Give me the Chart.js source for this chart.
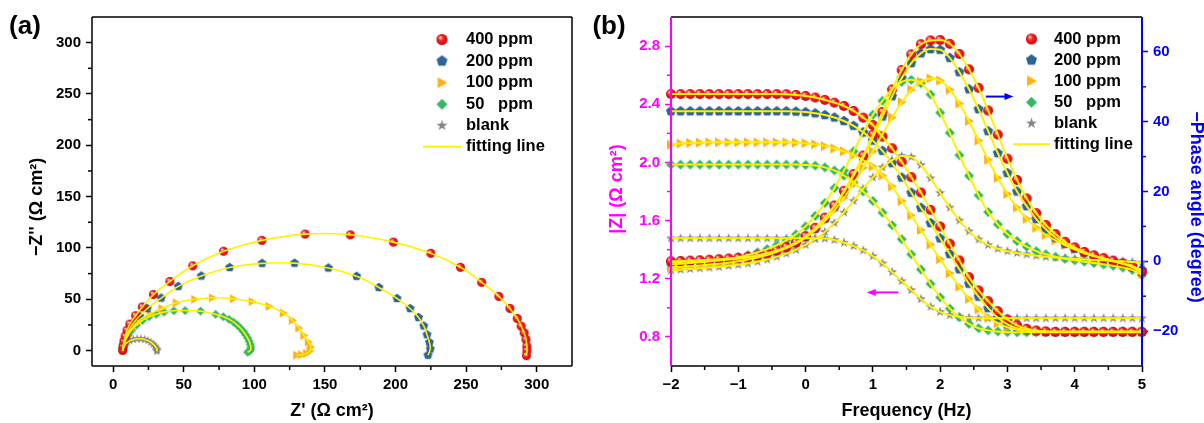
<!DOCTYPE html>
<html>
<head>
<meta charset="utf-8">
<script src="https://cdn.jsdelivr.net/npm/chart.js@4.4.1/dist/chart.umd.min.js"></script>
<style>
  html, body { margin: 0; padding: 0; background: #fff; }
  #wrap { position: relative; width: 1204px; height: 423px; overflow: hidden; }
  canvas { position: absolute; top: 0; }
  #nyquist { left: 0; }
  #bode { left: 580px; }
</style>
</head>
<body>
<div id="wrap">
  <canvas id="nyquist" width="580" height="423"></canvas>
  <canvas id="bode" width="624" height="423"></canvas>
</div>
<script>
// --- (a) Nyquist: Z' e -Z'' ---
const nyqTicks = [0, 50, 100, 150, 200, 250, 300];
const nyqMinor = [25, 75, 125, 175, 225, 275];

const ny400Re = [6.8, 7.0, 7.6, 8.5, 9.8, 11.8, 15.9, 20.6, 28.5, 40.2, 56.4, 78.2, 105.3, 136.0, 168.0, 198.5, 225.0, 246.0, 261.0, 273.2, 281.0, 286.2, 289.0, 291.1, 292.4, 293.0, 293.1, 292.7];
const ny400Im = [0.3, 4.0, 9.0, 14.0, 19.8, 25.8, 34.0, 42.5, 54.6, 67.4, 82.6, 96.8, 107.4, 113.5, 112.8, 105.7, 94.8, 81.2, 66.5, 52.8, 41.1, 31.3, 23.8, 17.3, 10.8, 4.2, 0.0, -4.9];
const ny200Re = [6.8, 7.3, 8.2, 9.6, 11.6, 14.5, 18.7, 24.1, 34.0, 46.1, 62.4, 82.5, 105.5, 128.5, 152.4, 172.4, 188.2, 201.0, 210.3, 216.3, 220.0, 222.3, 224.0, 224.6, 223.0];
const ny200Im = [0.5, 5.0, 10.0, 15.5, 21.0, 27.0, 33.5, 41.0, 51.2, 62.6, 72.7, 81.0, 85.0, 85.2, 80.5, 72.4, 61.5, 50.8, 41.0, 32.3, 24.0, 15.5, 8.0, 1.6, -4.5];
const ny100Re = [6.8, 7.3, 8.3, 10.0, 12.5, 16.0, 20.5, 26.5, 34.5, 44.7, 57.8, 70.4, 85.3, 98.5, 110.5, 120.6, 127.0, 131.5, 135.1, 138.3, 140.0, 139.5, 137.0, 133.5, 130.0];
const ny100Im = [0.0, 4.0, 9.0, 14.0, 20.0, 26.0, 31.5, 36.0, 41.0, 46.6, 50.0, 51.5, 50.5, 47.7, 43.1, 36.6, 29.5, 22.0, 14.7, 8.5, 3.5, -0.5, -2.8, -4.0, -4.5];
const ny50Re = [6.5, 6.9, 7.6, 8.8, 10.6, 13.2, 16.6, 20.8, 25.4, 30.5, 36.0, 43.0, 50.9, 61.9, 72.6, 78.0, 82.0, 85.3, 88.0, 90.3, 92.2, 93.8, 95.2, 96.3, 97.1, 97.5, 97.4, 96.5, 95.2];
const ny50Im = [0.0, 3.0, 6.5, 10.5, 15.0, 20.0, 25.0, 29.5, 33.0, 35.5, 37.5, 38.8, 39.0, 38.5, 35.3, 33.0, 30.5, 27.8, 24.8, 21.7, 18.6, 15.5, 12.3, 9.2, 6.2, 3.4, 1.0, -0.6, -1.5];
const nyBlankRe = [7.0, 7.4, 8.3, 9.8, 11.8, 14.3, 17.0, 19.7, 22.3, 24.6, 26.7, 28.3, 29.6, 30.5, 31.0, 31.1, 30.8];
const nyBlankIm = [0.0, 2.7, 5.4, 7.8, 9.7, 10.9, 11.5, 11.5, 10.9, 9.7, 8.1, 6.3, 4.4, 2.7, 1.4, 0.3, -0.6];

// --- (b) Bode: log(f), log|Z| e -fase ---
const bodeXTicks = [-2, -1, 0, 1, 2, 3, 4, 5];
const bodeXMinor = [-1.5, -0.5, 0.5, 1.5, 2.5, 3.5, 4.5];
const bodeZTicks = [0.8, 1.2, 1.6, 2.0, 2.4, 2.8];
const bodeZMinor = [1.0, 1.4, 1.8, 2.2, 2.6];
const bodePTicks = [-20, 0, 20, 40, 60];
const bodePMinor = [-10, 10, 30, 50];

const freqLog = [-2, -1.857, -1.714, -1.571, -1.429, -1.286, -1.143, -1, -0.857, -0.714,
  -0.571, -0.429, -0.286, -0.143, 0, 0.143, 0.286, 0.429, 0.571, 0.714,
  0.857, 1, 1.143, 1.286, 1.429, 1.571, 1.714, 1.857, 2, 2.143,
  2.286, 2.429, 2.571, 2.714, 2.857, 3, 3.143, 3.286, 3.429, 3.571,
  3.714, 3.857, 4, 4.143, 4.286, 4.429, 4.571, 4.714, 4.857, 5];

const z400 = [2.47, 2.47, 2.47, 2.47, 2.47, 2.47, 2.47, 2.47, 2.47, 2.47,
  2.47, 2.47, 2.469, 2.464, 2.457, 2.446, 2.430, 2.411, 2.388, 2.354,
  2.308, 2.257, 2.177, 2.097, 2.004, 1.899, 1.793, 1.674, 1.559, 1.441,
  1.326, 1.211, 1.120, 1.046, 0.977, 0.920, 0.880, 0.856, 0.844, 0.838,
  0.835, 0.835, 0.835, 0.835, 0.835, 0.835, 0.835, 0.835, 0.835, 0.835];
const z200 = [2.352, 2.352, 2.352, 2.352, 2.352, 2.352, 2.352, 2.352, 2.352, 2.352,
  2.352, 2.352, 2.352, 2.350, 2.346, 2.338, 2.326, 2.309, 2.285, 2.252,
  2.207, 2.150, 2.080, 1.995, 1.896, 1.792, 1.688, 1.583, 1.478, 1.370,
  1.265, 1.166, 1.077, 0.998, 0.932, 0.887, 0.860, 0.846, 0.839, 0.835,
  0.835, 0.835, 0.835, 0.835, 0.835, 0.835, 0.835, 0.835, 0.835, 0.835];
const z100 = [2.122, 2.130, 2.134, 2.136, 2.138, 2.138, 2.138, 2.138, 2.138, 2.138,
  2.138, 2.138, 2.138, 2.136, 2.132, 2.124, 2.112, 2.096, 2.076, 2.050,
  2.016, 1.972, 1.910, 1.835, 1.735, 1.635, 1.535, 1.435, 1.335, 1.238,
  1.145, 1.062, 0.990, 0.935, 0.895, 0.866, 0.850, 0.842, 0.838, 0.835,
  0.835, 0.835, 0.835, 0.835, 0.835, 0.835, 0.835, 0.835, 0.835, 0.835];
const z50 = [1.985, 1.985, 1.985, 1.985, 1.985, 1.985, 1.985, 1.985, 1.985, 1.985,
  1.985, 1.985, 1.985, 1.985, 1.983, 1.978, 1.966, 1.945, 1.910, 1.862,
  1.800, 1.735, 1.655, 1.568, 1.472, 1.368, 1.264, 1.165, 1.072, 0.995,
  0.935, 0.890, 0.860, 0.845, 0.838, 0.832, 0.832, 0.832, 0.832, 0.832,
  0.832, 0.832, 0.832, 0.832, 0.832, 0.832, 0.832, 0.832, 0.832, 0.832];
const zBlank = [1.478, 1.478, 1.478, 1.478, 1.478, 1.478, 1.478, 1.478, 1.478, 1.478,
  1.478, 1.478, 1.478, 1.478, 1.478, 1.478, 1.476, 1.467, 1.448, 1.425,
  1.395, 1.356, 1.306, 1.246, 1.184, 1.122, 1.060, 1.008, 0.972, 0.950,
  0.939, 0.932, 0.928, 0.928, 0.928, 0.928, 0.928, 0.928, 0.928, 0.928,
  0.928, 0.928, 0.928, 0.928, 0.928, 0.928, 0.928, 0.928, 0.928, 0.928];

const p400 = [0.0, 0.1, 0.2, 0.3, 0.45, 0.6, 0.8, 1.0, 1.3, 1.7,
  2.3, 3.1, 4.1, 5.4, 7.2, 9.6, 12.5, 16.0, 20.2, 25.0,
  30.3, 36.3, 42.8, 49.2, 54.8, 59.3, 62.2, 63.3, 63.4, 62.3,
  59.4, 55.0, 49.7, 43.2, 36.3, 29.4, 23.3, 18.0, 13.8, 10.4,
  7.8, 5.6, 4.0, 2.7, 1.7, 0.9, 0.2, -0.6, -1.6, -3.0];
const p200 = [-0.3, -0.2, -0.1, 0.0, 0.15, 0.3, 0.5, 0.75, 1.1, 1.5,
  2.1, 2.9, 3.9, 5.2, 7.0, 9.3, 12.2, 15.7, 19.8, 24.5,
  29.7, 35.5, 41.5, 47.3, 52.5, 56.8, 59.6, 60.8, 60.6, 58.3,
  54.2, 49.3, 43.6, 37.3, 31.0, 25.3, 20.0, 15.8, 12.1, 9.2,
  6.8, 5.0, 3.6, 2.5, 1.5, 0.8, 0.1, -0.6, -1.4, -2.5];
const p100 = [-1.8, -1.6, -1.4, -1.2, -0.95, -0.7, -0.4, 0.0, 0.5, 1.1,
  1.8, 2.7, 3.8, 5.1, 6.8, 8.9, 11.5, 14.6, 18.2, 22.3,
  26.8, 31.5, 36.4, 41.2, 45.6, 49.2, 51.5, 52.4, 51.8, 49.2,
  45.2, 40.2, 34.6, 29.1, 23.9, 19.3, 15.4, 12.2, 9.6, 7.6,
  6.0, 4.6, 3.4, 2.3, 1.5, 0.7, 0.0, -0.7, -1.7, -3.5];
const p50 = [-0.9, -0.7, -0.5, -0.3, 0.0, 0.3, 0.7, 1.2, 1.8, 2.6,
  3.5, 4.6, 6.0, 7.7, 10.0, 13.0, 16.7, 21.0, 26.0, 31.5,
  37.0, 42.0, 46.0, 49.3, 51.4, 52.0, 51.0, 47.8, 42.6, 36.8,
  30.4, 24.5, 18.9, 14.1, 10.6, 7.8, 5.8, 4.2, 2.9, 2.0,
  1.3, 0.7, 0.3, -0.1, -0.5, -0.9, -1.3, -1.8, -2.5, -4.0];
const pBlank = [-2.6, -2.4, -2.2, -2.0, -1.8, -1.6, -1.3, -1.0, -0.6, -0.1,
  0.5, 1.3, 2.2, 3.3, 4.7, 6.4, 8.4, 11.0, 14.0, 17.3,
  20.8, 24.0, 26.9, 29.0, 30.2, 29.9, 27.6, 23.8, 19.6, 15.4,
  11.7, 8.6, 6.3, 4.7, 3.6, 2.9, 2.4, 2.0, 1.6, 1.3,
  1.1, 0.9, 0.7, 0.5, 0.4, 0.3, 0.1, 0.0, -0.2, -0.4];

const seriesNames = ['400 ppm', '200 ppm', '100 ppm', '50   ppm', 'blank'];
const seriesColors = ['#e8141c', '#2d6396', '#ffb114', '#35b863', '#858585'];
const seriesShapes = ['ball', 'pentagon', 'triangle', 'diamond', 'star'];
const FIT = '#fff200';
const MAGENTA = '#ff00ff';
const BLUE = '#0000ff';
const FONT = '"Liberation Sans", Arial, sans-serif';

Chart.defaults.font.family = FONT;
Chart.defaults.font.weight = 'bold';

// marcador desenhado num canvas pequeno (pentágono, estrela etc. não existem no Chart.js)
function makeMarker(shape, color, size) {
  const c = document.createElement('canvas');
  c.width = size + 2; c.height = size + 2;
  const g = c.getContext('2d');
  const m = (size + 2) / 2, r = size / 2;
  g.fillStyle = color;
  g.beginPath();
  if (shape === 'ball') {
    const grd = g.createRadialGradient(m - r * 0.35, m - r * 0.4, r * 0.1, m, m, r);
    grd.addColorStop(0, '#ffd6d6');
    grd.addColorStop(0.35, '#ff2a2a');
    grd.addColorStop(1, '#cc0000');
    g.fillStyle = grd;
    g.arc(m, m, r, 0, Math.PI * 2);
  } else if (shape === 'pentagon') {
    for (let i = 0; i < 5; i++) {
      const a = -Math.PI / 2 + i * 2 * Math.PI / 5;
      g.lineTo(m + r * 1.05 * Math.cos(a), m + r * 1.05 * Math.sin(a));
    }
  } else if (shape === 'triangle') {
    g.moveTo(m + r, m); g.lineTo(m - r * 0.8, m - r); g.lineTo(m - r * 0.8, m + r);
  } else if (shape === 'diamond') {
    g.moveTo(m, m - r); g.lineTo(m + r, m); g.lineTo(m, m + r); g.lineTo(m - r, m);
  } else if (shape === 'star') {
    for (let i = 0; i < 10; i++) {
      const a = -Math.PI / 2 + i * Math.PI / 5;
      const rr = i % 2 ? r * 0.42 : r * 1.05;
      g.lineTo(m + rr * Math.cos(a), m + rr * Math.sin(a));
    }
  }
  g.closePath();
  g.fill();
  return c;
}

const markersA = seriesShapes.map((s, i) => makeMarker(s, seriesColors[i], 9));
const markersB = seriesShapes.map((s, i) => makeMarker(s, seriesColors[i], 10));
const markersLegend = seriesShapes.map((s, i) => makeMarker(s, seriesColors[i], 11));

const toXY = (xs, ys) => xs.map((x, i) => ({ x: x, y: ys[i] }));
const minus = v => String(v).replace('-', '\u2212');

// --- plugin: moldura, ticks menores, títulos, legenda e setas ---
const decorPlugin = {
  id: 'decor',
  afterDraw(chart, args, opts) {
    const ctx = chart.ctx, a = chart.chartArea;
    ctx.save();
    (opts.minor || []).forEach(m => {
      const s = chart.scales[m.axis];
      ctx.strokeStyle = m.color; ctx.lineWidth = 1.5;
      m.values.forEach(v => {
        const p = s.getPixelForValue(v);
        ctx.beginPath();
        if (m.side === 'bottom') { ctx.moveTo(p, a.bottom); ctx.lineTo(p, a.bottom + 4); }
        if (m.side === 'left') { ctx.moveTo(a.left, p); ctx.lineTo(a.left - 4, p); }
        if (m.side === 'right') { ctx.moveTo(a.right, p); ctx.lineTo(a.right + 4, p); }
        ctx.stroke();
      });
    });
    (opts.frame || []).forEach(f => {
      ctx.strokeStyle = f.color; ctx.lineWidth = f.width;
      ctx.beginPath();
      if (f.side === 'top') { ctx.moveTo(a.left, a.top); ctx.lineTo(a.right, a.top); }
      if (f.side === 'bottom') { ctx.moveTo(a.left, a.bottom); ctx.lineTo(a.right, a.bottom); }
      if (f.side === 'left') { ctx.moveTo(a.left, a.top); ctx.lineTo(a.left, a.bottom); }
      if (f.side === 'right') { ctx.moveTo(a.right, a.top); ctx.lineTo(a.right, a.bottom); }
      ctx.stroke();
    });
    (opts.arrows || []).forEach(ar => {
      const sx = chart.scales.x, sy = chart.scales[ar.axis];
      const x1 = sx.getPixelForValue(ar.x1), x2 = sx.getPixelForValue(ar.x2), y = sy.getPixelForValue(ar.y);
      const dir = Math.sign(x2 - x1);
      ctx.strokeStyle = ar.color; ctx.fillStyle = ar.color; ctx.lineWidth = 2;
      ctx.beginPath(); ctx.moveTo(x1, y); ctx.lineTo(x2 - dir * 6, y); ctx.stroke();
      ctx.beginPath(); ctx.moveTo(x2, y); ctx.lineTo(x2 - dir * 9, y - 3.5); ctx.lineTo(x2 - dir * 9, y + 3.5); ctx.closePath(); ctx.fill();
    });
    (opts.titles || []).forEach(t => {
      ctx.save();
      ctx.translate(t.x, t.y);
      if (t.rot) ctx.rotate(t.rot * Math.PI / 180);
      ctx.fillStyle = t.color; ctx.font = t.font;
      ctx.textAlign = 'center'; ctx.textBaseline = 'middle';
      ctx.fillText(t.text, 0, 0);
      ctx.restore();
    });
    const lg = opts.legend;
    if (lg) {
      ctx.font = 'bold 16.5px ' + FONT;
      ctx.fillStyle = '#000'; ctx.textAlign = 'left'; ctx.textBaseline = 'middle';
      seriesNames.forEach((n, i) => {
        const mk = markersLegend[i];
        ctx.drawImage(mk, lg.x - mk.width / 2, lg.ys[i] - mk.height / 2);
        ctx.fillText(n, lg.tx, lg.ys[i]);
      });
      const yl = lg.ys[5];
      ctx.strokeStyle = FIT; ctx.lineWidth = 2;
      ctx.beginPath(); ctx.moveTo(lg.line[0], yl); ctx.lineTo(lg.line[1], yl); ctx.stroke();
      ctx.fillText('fitting line', lg.tx, yl);
    }
    ctx.restore();
  }
};

const tickFont = { family: FONT, size: 15, weight: 'bold' };
const titleFont = 'bold 18px ' + FONT;

// --- gráfico (a) ---
const nyqRe = [ny400Re, ny200Re, ny100Re, ny50Re, nyBlankRe];
const nyqIm = [ny400Im, ny200Im, ny100Im, ny50Im, nyBlankIm];
const nyqDatasets = [];
seriesNames.forEach((n, i) => {
  nyqDatasets.push({
    label: n, data: toXY(nyqRe[i], nyqIm[i]),
    pointStyle: markersA[i], pointRadius: 4, showLine: false, order: 10 + i, clip: false
  });
  nyqDatasets.push({
    label: 'fitting line', data: toXY(nyqRe[i], nyqIm[i]),
    showLine: true, pointRadius: 0, borderColor: FIT, borderWidth: 1.6, tension: 0.4, order: 1
  });
});

new Chart(document.getElementById('nyquist'), {
  type: 'scatter',
  data: { datasets: nyqDatasets },
  options: {
    responsive: false, animation: false, devicePixelRatio: 1,
    layout: { padding: { left: 0, top: 17, right: 8, bottom: 0 } },
    plugins: {
      legend: { display: false }, tooltip: { enabled: false },
      decor: {
        frame: ['top', 'right', 'bottom', 'left'].map(s => ({ side: s, color: '#000', width: 1.5 })),
        minor: [{ axis: 'x', side: 'bottom', values: nyqMinor, color: '#000' },
                { axis: 'y', side: 'left', values: nyqMinor, color: '#000' }],
        titles: [
          { text: 'Z\' (\u03A9 cm\u00B2)', x: 332, y: 411, rot: 0, color: '#000', font: titleFont },
          { text: '\u2212Z\'\' (\u03A9 cm\u00B2)', x: 37, y: 207, rot: -90, color: '#000', font: titleFont },
          { text: '(a)', x: 25, y: 27, rot: 0, color: '#000', font: 'bold 26px ' + FONT }
        ],
        legend: { x: 442, tx: 466, ys: [39.5, 61, 82.7, 104.3, 125.5, 146.7], line: [423, 461] }
      }
    },
    scales: {
      x: {
        type: 'linear', min: -15, max: 325,
        afterBuildTicks: s => { s.ticks = nyqTicks.map(v => ({ value: v })); },
        afterFit: s => { s.height = 57; },
        grid: { drawOnChartArea: false, color: '#000', tickLength: 6, tickWidth: 1.5 },
        border: { display: false },
        ticks: { color: '#000', font: tickFont, padding: 4, maxRotation: 0, autoSkip: false }
      },
      y: {
        type: 'linear', min: -15, max: 325,
        afterBuildTicks: s => { s.ticks = nyqTicks.map(v => ({ value: v })); },
        afterFit: s => { s.width = 92; },
        grid: { drawOnChartArea: false, color: '#000', tickLength: 6, tickWidth: 1.5 },
        border: { display: false },
        ticks: { color: '#000', font: tickFont, padding: 5, autoSkip: false }
      }
    }
  },
  plugins: [decorPlugin]
});

// --- gráfico (b) ---
const bodeZ = [z400, z200, z100, z50, zBlank];
const bodeP = [p400, p200, p100, p50, pBlank];
const bodeDatasets = [];
seriesNames.forEach((n, i) => {
  [['yZ', bodeZ[i]], ['yP', bodeP[i]]].forEach(([ax, vals]) => {
    bodeDatasets.push({
      label: n, data: toXY(freqLog, vals), yAxisID: ax,
      pointStyle: markersB[i], pointRadius: 4, showLine: false, order: 10 + i, clip: false
    });
    bodeDatasets.push({
      label: 'fitting line', data: toXY(freqLog, vals), yAxisID: ax,
      showLine: true, pointRadius: 0, borderColor: FIT, borderWidth: 2,
      cubicInterpolationMode: 'monotone', order: 1, clip: false
    });
  });
});

new Chart(document.getElementById('bode'), {
  type: 'scatter',
  data: { datasets: bodeDatasets },
  options: {
    responsive: false, animation: false, devicePixelRatio: 1,
    layout: { padding: { left: 0, top: 17, right: 0, bottom: 0 } },
    plugins: {
      legend: { display: false }, tooltip: { enabled: false },
      decor: {
        frame: [{ side: 'top', color: '#000', width: 1.5 }, { side: 'bottom', color: '#000', width: 1.5 },
                { side: 'left', color: MAGENTA, width: 2 }, { side: 'right', color: BLUE, width: 2 }],
        minor: [{ axis: 'x', side: 'bottom', values: bodeXMinor, color: '#000' },
                { axis: 'yZ', side: 'left', values: bodeZMinor, color: MAGENTA },
                { axis: 'yP', side: 'right', values: bodePMinor, color: BLUE }],
        arrows: [{ axis: 'yP', x1: 2.68, x2: 3.09, y: 47.2, color: BLUE },
                 { axis: 'yZ', x1: 1.38, x2: 0.91, y: 1.106, color: MAGENTA }],
        titles: [
          { text: 'Frequency (Hz)', x: 326.5, y: 411, rot: 0, color: '#000', font: titleFont },
          { text: '|Z| (\u03A9 cm\u00B2)', x: 37.5, y: 189, rot: -90, color: MAGENTA, font: titleFont },
          { text: '\u2212Phase angle (degree)', x: 616, y: 207, rot: 90, color: BLUE, font: titleFont },
          { text: '(b)', x: 29, y: 27, rot: 0, color: '#000', font: 'bold 26px ' + FONT }
        ],
        legend: { x: 451.5, tx: 474, ys: [39, 60, 81, 102.3, 123.3, 144.3], line: [433, 470] }
      }
    },
    scales: {
      x: {
        type: 'linear', min: -2, max: 5,
        afterBuildTicks: s => { s.ticks = bodeXTicks.map(v => ({ value: v })); },
        afterFit: s => { s.height = 57; },
        grid: { drawOnChartArea: false, color: '#000', tickLength: 6, tickWidth: 1.5 },
        border: { display: false },
        ticks: { color: '#000', font: tickFont, padding: 4, maxRotation: 0, autoSkip: false,
                 callback: v => minus(v) }
      },
      yZ: {
        type: 'linear', position: 'left', min: 0.6, max: 3.0,
        afterBuildTicks: s => { s.ticks = bodeZTicks.map(v => ({ value: v })); },
        afterFit: s => { s.width = 91; },
        grid: { drawOnChartArea: false, color: MAGENTA, tickLength: 6, tickWidth: 1.5 },
        border: { display: false },
        ticks: { color: MAGENTA, font: tickFont, padding: 5, autoSkip: false,
                 callback: v => Number(v).toFixed(1) }
      },
      yP: {
        type: 'linear', position: 'right', min: -30, max: 70,
        afterBuildTicks: s => { s.ticks = bodePTicks.map(v => ({ value: v })); },
        afterFit: s => { s.width = 62; },
        grid: { drawOnChartArea: false, color: BLUE, tickLength: 6, tickWidth: 1.5 },
        border: { display: false },
        ticks: { color: BLUE, font: tickFont, padding: 5, autoSkip: false,
                 callback: v => minus(v) }
      }
    }
  },
  plugins: [decorPlugin]
});
</script>
</body>
</html>
